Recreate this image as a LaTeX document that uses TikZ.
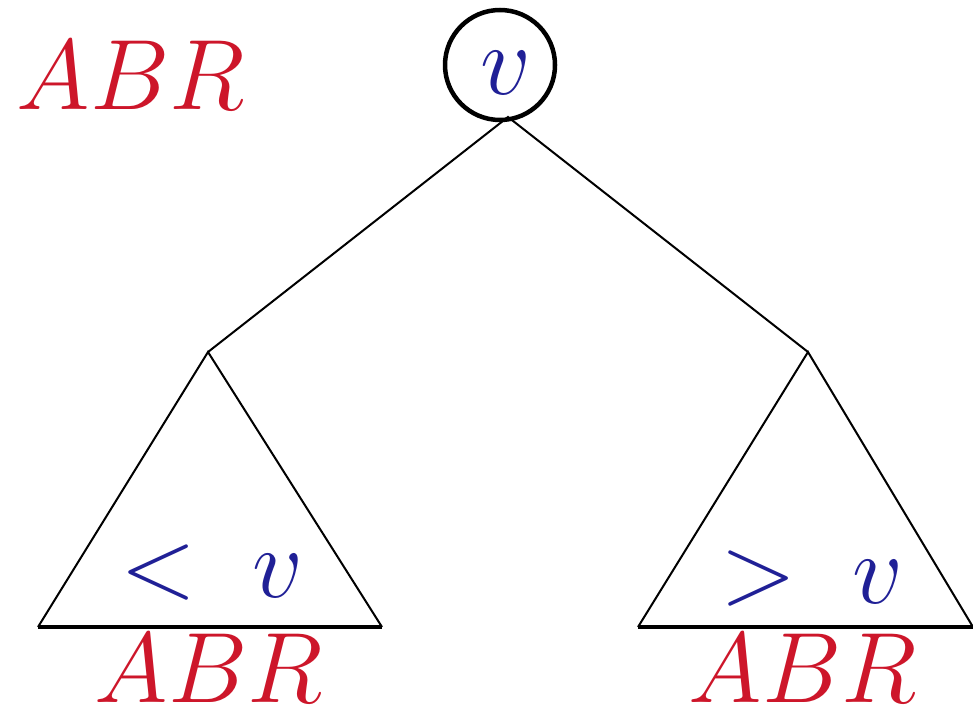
\documentclass[tikz,border=0pt]{standalone}
\usepackage{fix-cm}
\usepackage{xcolor}
\usetikzlibrary{positioning}

\definecolor{abrred}{RGB}{205,22,42}
\definecolor{keyblue}{RGB}{32,32,150}

\begin{document}
\begin{tikzpicture}[
  x=1pt, y=-1pt,
  big/.style={inner sep=0pt, anchor=base, font=\fontsize{100}{104}\selectfont},
  tag/.style={big, text=abrred},
  key/.style={big, text=keyblue},
  rootnode/.style={draw, circle, line width=4.5pt, minimum size=110pt, inner sep=0pt},
  edge/.style={line width=2pt},
  base/.style={line width=4pt}
]
\useasboundingbox (0,0) rectangle (973,711);

% root and subtree tops
\node[rootnode] (root) at (500,65) {};
\node[key] (rootkey) at (506,95) {$v$};
\coordinate (top) at (508,117);
\coordinate (ltop) at (208,352);
\coordinate (rtop) at (808,352);

% subtree bases
\coordinate (lbl) at (38,627);
\coordinate (lbr) at (382,627);
\coordinate (rbl) at (638,627);
\coordinate (rbr) at (973,627);

\draw[edge] (ltop) -- (top) -- (rtop);
\draw[edge] (lbl) -- (ltop) -- (lbr);
\draw[edge] (rbl) -- (rtop) -- (rbr);
\draw[base] (lbl) -- (lbr);
\draw[base] (rbl) -- (rbr);

% labels
\node[tag] (abr) at (131,110) {$ABR$};
\node[key] (less) at (212,597) {$<\;v$};
\node[key] (more) at (812,603) {$>\;v$};
\node[tag] (labr) at (209,702) {$ABR$};
\node[tag] (rabr) at (803,702) {$ABR$};
\end{tikzpicture}
\end{document}
